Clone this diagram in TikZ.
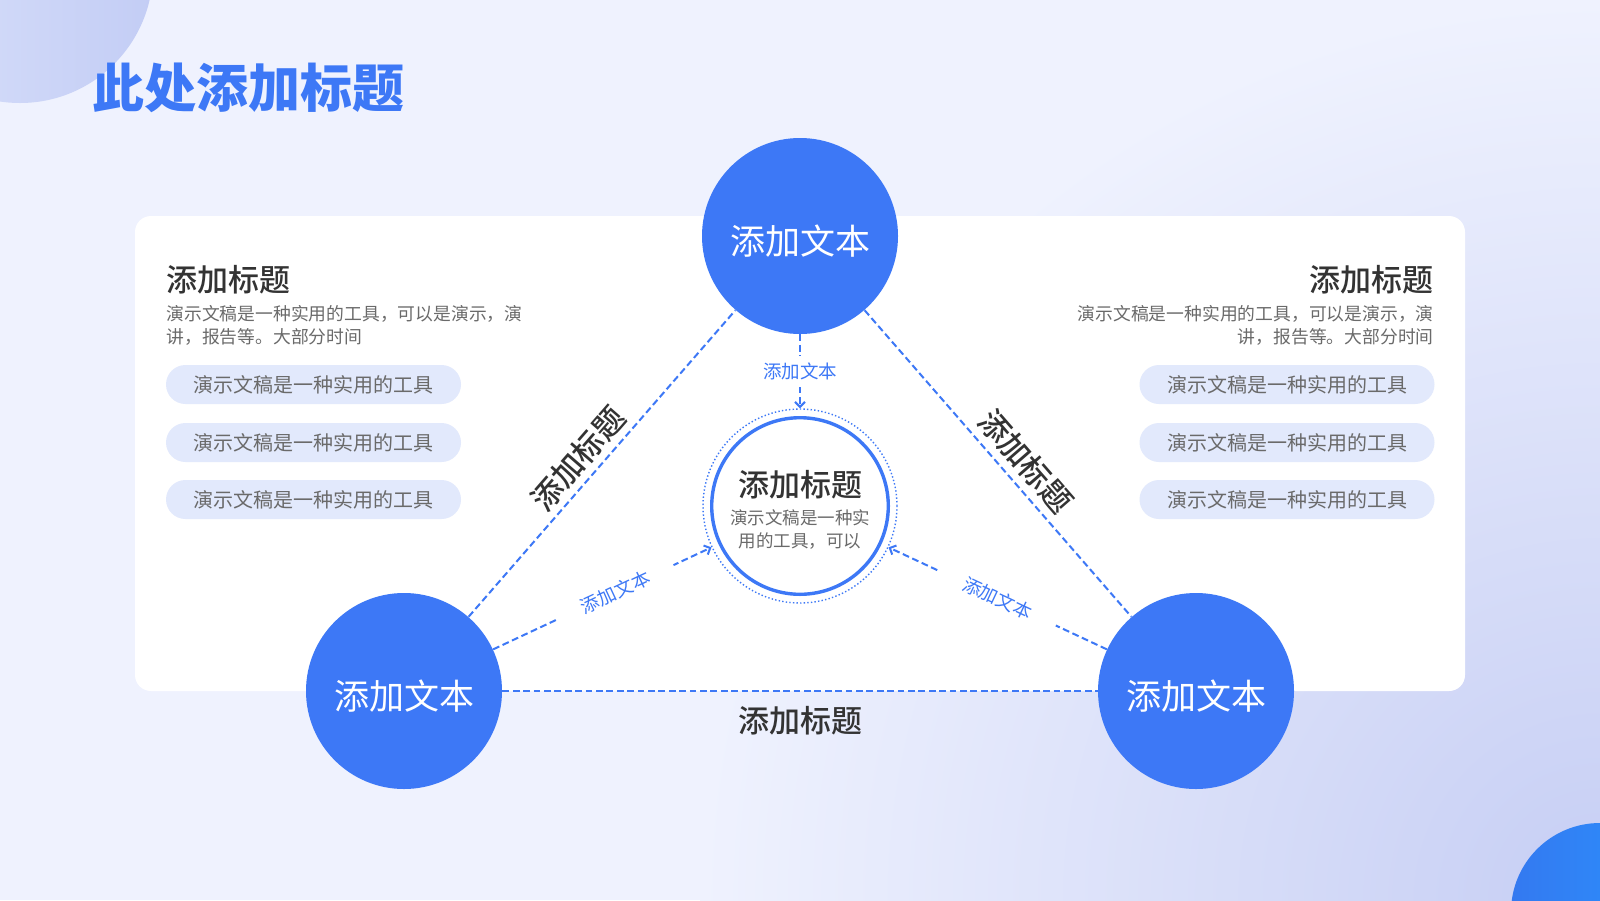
\documentclass[tikz,border=0pt]{standalone}
\usepackage{fontspec}
\setmainfont{Noto Sans CJK SC}[BoldFont={Noto Sans CJK SC Medium}]
\newfontfamily\titlefont{Noto Sans CJK SC}
\usetikzlibrary{arrows.meta}

\definecolor{bgpale}{HTML}{EFF2FE}
\definecolor{bgdeep}{HTML}{C6CEF4}
\definecolor{mainblue}{HTML}{3D78F6}
\definecolor{pillblue}{HTML}{E2E9FC}
\definecolor{darktext}{HTML}{333333}
\definecolor{graytext}{HTML}{6A6A6A}
\definecolor{decoA}{HTML}{D9E0FA}
\definecolor{decoB}{HTML}{C3CDF5}
\definecolor{dotA}{HTML}{3479F0}
\definecolor{dotB}{HTML}{2A93FF}

\tikzset{
  hub/.style={circle, fill=mainblue, text=white, minimum size=98pt, inner sep=0pt, text height=18pt, text depth=0pt, font=\fontsize{17.5}{20}\selectfont},
  link/.style={draw=mainblue, line width=1pt, dash pattern=on 3.4pt off 1.8pt},
  tag/.style={fill=white, text=mainblue, inner xsep=13.5pt, inner ysep=3.5pt, font=\fontsize{9.25}{11}\selectfont},
  boldtitle/.style={text=darktext, inner sep=0pt, font=\bfseries\fontsize{15.5}{18}\selectfont},
  desc/.style={text=graytext, inner sep=0pt, font=\fontsize{8.9}{11.5}\selectfont},
  pill/.style={fill=pillblue, text=graytext, rounded corners=9.75pt, minimum width=147.5pt, minimum height=19.5pt, inner sep=0pt, font=\fontsize{10}{12}\selectfont},
}

\begin{document}
\begin{tikzpicture}[x=0.5pt, y=-0.5pt, >={Straight Barb[length=2.5pt,width=5pt]}]
\useasboundingbox (0,0) rectangle (1600,900);

%%%%%% Background %%%%%%%
\fill[bgpale] (0,0) rectangle (1600,900);
\begin{scope}
\clip (0,0) rectangle (1600,900);
\shade[inner color=bgdeep, outer color=bgpale] (1600,900) circle (900);
\shade[left color=decoA, right color=decoB] (20,-30) circle (133);
\shade[left color=dotA, right color=dotB] (1600,912) circle (89);
\end{scope}

\fill[white, rounded corners=8pt] (135,216) rectangle (1465,691);

\node (title) at (92,88) [anchor=west, inner sep=0pt, text=mainblue, font=\titlefont\bfseries\fontsize{26}{30}\selectfont] {此处添加标题};

%%%%%% Left column %%%%%%%
\node (headL) at (166,280) [anchor=west, boldtitle] {添加标题};
\node (descL) at (166,325.5) [anchor=west, desc, align=left] {演示文稿是一种实用的工具，可以是演示，演\\讲，报告等。大部分时间};
\node (pillL1) at (313.5,384.5) [pill] {演示文稿是一种实用的工具};
\node (pillL2) at (313.5,442.5) [pill] {演示文稿是一种实用的工具};
\node (pillL3) at (313.5,499.5) [pill] {演示文稿是一种实用的工具};

%%%%%% Right column %%%%%%%
\node (headR) at (1434,280) [anchor=east, boldtitle] {添加标题};
\node (descR) at (1434,325.5) [anchor=east, desc, align=right] {演示文稿是一种实用的工具，可以是演示，演\\讲，报告等。大部分时间};
\node (pillR1) at (1287,384.5) [pill] {演示文稿是一种实用的工具};
\node (pillR2) at (1287,442.5) [pill] {演示文稿是一种实用的工具};
\node (pillR3) at (1287,499.5) [pill] {演示文稿是一种实用的工具};

%%%%%% Triangle %%%%%%%
\node (top) at (800,236) [hub] {添加文本};
\node (left) at (404,691) [hub] {添加文本};
\node (right) at (1196,691) [hub] {添加文本};

\node (mid) at (800,506) [circle, draw=mainblue, line width=0.7pt, dash pattern=on 0.7pt off 1.1pt, minimum size=97pt] {};
\node (ring) at (800,506) [circle, draw=mainblue, line width=1.7pt, minimum size=88.3pt] {};
\node (midhead) at (800,485) [boldtitle] {添加标题};
\node (midtext) at (800,529.5) [desc, align=center, font=\fontsize{8.75}{11.5}\selectfont] {演示文稿是一种实\\用的工具，可以};

\draw[link] (left) -- node[boldtitle, sloped, pos=0.47, above=3pt] {添加标题} (top);
\draw[link] (top) -- node[boldtitle, sloped, pos=0.54, above=3.5pt] {添加标题} (right);
\draw[link] (left) -- node[boldtitle, below=7pt] {添加标题} (right);

%%%%%% Into the middle %%%%%%%
\draw[link, ->] (top) -- node[tag] {添加文本} (mid);
\draw[link, ->] (left) -- node[tag, sloped, pos=0.56] {添加文本} (mid);
\draw[link, ->] (right) -- node[tag, sloped] {添加文本} (mid);

\end{tikzpicture}
\end{document}
